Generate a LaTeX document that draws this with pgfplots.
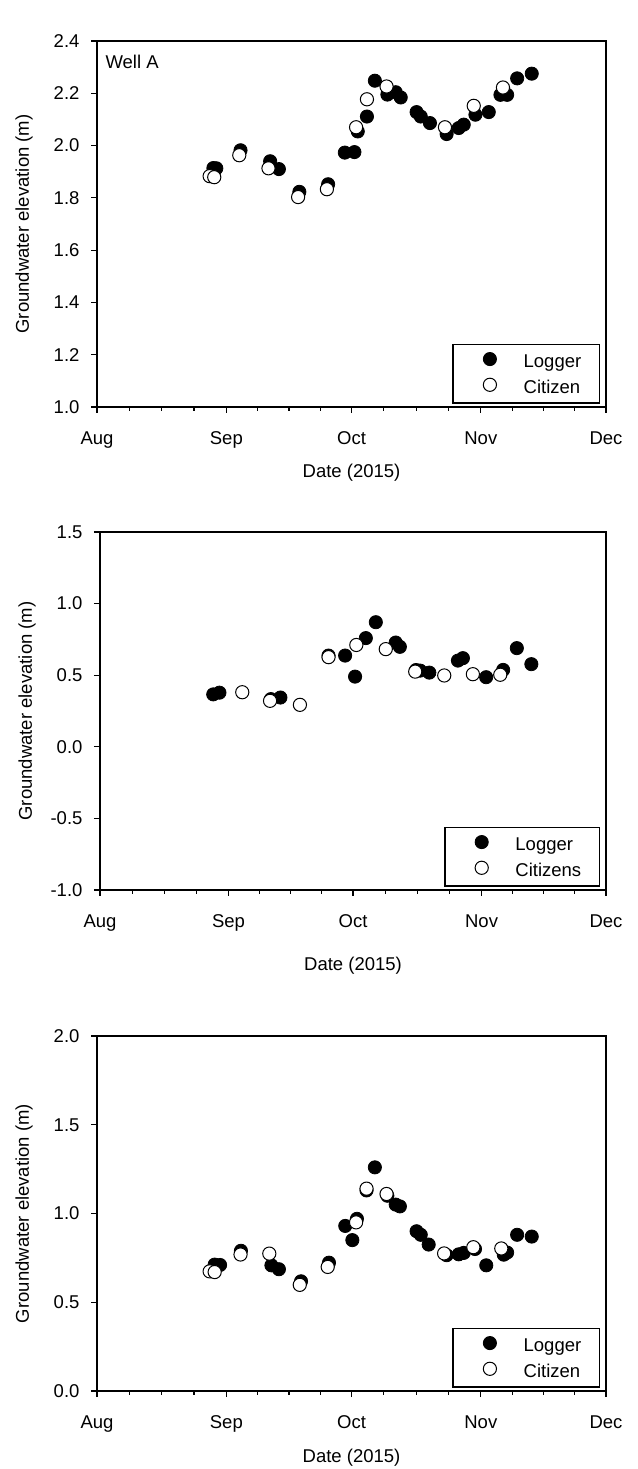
\documentclass[border=0pt]{standalone}
\usepackage{fontspec}
\setmainfont{Liberation Sans}
\usepackage{pgfplots}
\pgfplotsset{compat=1.18}
\usepackage{pgfplotstable}

\pgfplotstableread{
d v
27.9 1.914
28.6 1.913
34.4 1.982
41.5 1.940
43.6 1.910
48.5 1.823
55.4 1.852
59.4 1.973
61.7 1.975
62.5 2.054
64.7 2.111
66.6 2.248
69.6 2.195
71.6 2.204
72.8 2.184
76.6 2.128
77.6 2.111
79.8 2.086
83.8 2.044
86.7 2.067
87.9 2.080
90.7 2.118
93.9 2.128
96.7 2.194
98.3 2.194
100.7 2.257
104.2 2.275
}\loggerA
\pgfplotstableread{
d v
27.0 1.883
28.1 1.879
34.1 1.963
41.1 1.913
48.2 1.803
55.1 1.833
62.1 2.070
64.7 2.177
69.4 2.226
83.4 2.070
90.3 2.152
97.3 2.222
}\citizenA
\pgfplotstableread{
d v
27.3 0.366
28.8 0.378
41.2 0.333
43.5 0.344
55.1 0.637
59.1 0.637
61.5 0.490
64.1 0.759
66.5 0.870
71.3 0.728
72.3 0.698
76.2 0.536
77.2 0.532
79.4 0.518
86.3 0.602
87.5 0.619
93.1 0.486
97.2 0.537
100.5 0.689
104.0 0.577
}\loggerB
\pgfplotstableread{
d v
34.3 0.381
41.0 0.321
48.2 0.293
55.1 0.626
61.8 0.711
68.9 0.682
76.0 0.525
83.0 0.498
89.9 0.507
96.5 0.503
}\citizenB
\pgfplotstableread{
d v
28.2 0.712
29.5 0.710
34.5 0.790
41.8 0.708
43.6 0.686
48.9 0.618
55.6 0.723
59.5 0.930
61.2 0.850
62.3 0.970
64.6 1.130
66.6 1.260
69.6 1.100
71.6 1.050
72.6 1.040
76.6 0.900
77.6 0.880
79.5 0.825
83.8 0.765
86.7 0.770
87.9 0.778
90.6 0.800
93.3 0.708
97.5 0.768
98.3 0.780
100.7 0.880
104.2 0.870
}\loggerC
\pgfplotstableread{
d v
27.0 0.674
28.2 0.670
34.4 0.769
41.3 0.774
48.6 0.598
55.3 0.699
62.1 0.950
64.6 1.140
69.4 1.110
83.2 0.775
90.2 0.810
96.9 0.803
}\citizenC

\newcommand{\ff}{\fontsize{18.5}{22}\selectfont}

\pgfplotsset{
  wellaxis/.style={
    scale only axis,
    axis line style={line width=1.5pt},
    font=\ff,
    xmin=0, xmax=122,
    xtick={0,31,61,92,122},
    xticklabels={Aug,Sep,Oct,Nov,Dec},
    minor xtick={7.75,15.5,23.25,38.5,46,53.5,68.75,76.5,84.25,99.5,107,114.5},
    tick align=outside,
    xtick pos=bottom, ytick pos=left,
    major tick length=6pt,
    minor tick length=4pt,
    every tick/.style={black, line width=1.2pt},
    /pgf/number format/assume math mode=true,
    yticklabel style={/pgf/number format/fixed, /pgf/number format/fixed zerofill,
      /pgf/number format/precision=1, xshift=-8pt},
    xticklabel style={yshift=-15pt},
    xlabel={Date (2015)},
    ylabel={Groundwater elevation (m)},
    legend cell align=left,
    legend style={at={(1,0)}, anchor=south east, xshift=-6pt, yshift=3pt,
      draw=black, line width=1.5pt, inner xsep=18pt, inner ysep=8pt,
      nodes={inner sep=0pt, font=\ff}, row sep=9pt},
    legend image code/.code={\path (0pt,0pt) (51pt,0pt); \draw[##1, line width=1pt] plot coordinates {(18pt,3pt)};},
  },
  logger/.style={only marks, mark=*, mark size=6.6pt, mark options={fill=black, draw=black, line width=0.8pt}},
  citizen/.style={only marks, mark=*, mark size=6.6pt, mark options={fill=white, draw=black, line width=1pt}},
}

\begin{document}
\begin{tikzpicture}[x=1pt,y=1pt]
\path[use as bounding box] (0,0) rectangle (637,1469);

% Panel A
\begin{axis}[wellaxis, at={(97pt,1062pt)}, anchor=south west, width=509pt, height=366pt,
  ymin=1.0, ymax=2.4, ytick={1.0,1.2,1.4,1.6,1.8,2.0,2.2,2.4},
  xlabel style={at={(axis description cs:0.5,0)}, anchor=center, yshift=-66pt},
  ylabel style={at={(axis description cs:-0.1434,0.5)}, anchor=center}]
\addplot[logger] table[x=d,y=v] {\loggerA};
\addlegendentry{Logger}
\addplot[citizen] table[x=d,y=v] {\citizenA};
\addlegendentry{Citizen}
\node[anchor=north west, font=\ff] at (rel axis cs:0,1) [xshift=5pt, yshift=-11pt] {Well A};
\end{axis}

% Panel B
\begin{axis}[wellaxis, at={(100pt,579pt)}, anchor=south west, width=506pt, height=358pt,
  ymin=-1.0, ymax=1.5, ytick={-1.0,-0.5,0.0,0.5,1.0,1.5},
  xlabel style={at={(axis description cs:0.5,0)}, anchor=center, yshift=-76pt},
  ylabel style={at={(axis description cs:-0.1443,0.5)}, anchor=center}]
\addplot[logger] table[x=d,y=v] {\loggerB};
\addlegendentry{Logger}
\addplot[citizen] table[x=d,y=v] {\citizenB};
\addlegendentry{Citizens}
\end{axis}

% Panel C
\begin{axis}[wellaxis, at={(97pt,78pt)}, anchor=south west, width=509pt, height=355pt,
  ymin=0.0, ymax=2.0, ytick={0.0,0.5,1.0,1.5,2.0},
  xlabel style={at={(axis description cs:0.5,0)}, anchor=center, yshift=-67pt},
  ylabel style={at={(axis description cs:-0.1434,0.5)}, anchor=center}]
\addplot[logger] table[x=d,y=v] {\loggerC};
\addlegendentry{Logger}
\addplot[citizen] table[x=d,y=v] {\citizenC};
\addlegendentry{Citizen}
\end{axis}
\end{tikzpicture}
\end{document}
